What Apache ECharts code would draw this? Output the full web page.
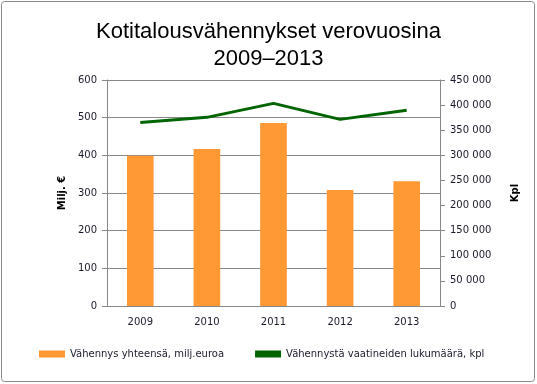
<!DOCTYPE html>
<html><head><meta charset="utf-8">
<script src="https://cdn.jsdelivr.net/npm/echarts@6/dist/echarts.min.js"></script>
<style>html,body{margin:0;padding:0;background:#fff}#c{width:537px;height:384px}</style>
</head><body><div id="c"></div>
<script>
const years = ['2009','2010','2011','2012','2013'];
const amounts = [399, 417, 486, 308, 331];
const counts = [365600, 375600, 403500, 371600, 389600];
const seriesNames = ['Vähennys yhteensä, milj.euroa', 'Vähennystä vaatineiden lukumäärä, kpl'];
const titleLines = ['Kotitalousvähennykset verovuosina', '2009–2013'];

const chart = echarts.init(document.getElementById('c'));
const fmt = v => String(v).replace(/\B(?=(\d{3})+(?!\d))/g, ' ');
const axisFont = {fontFamily: 'DejaVu Sans', fontSize: 10, color: '#1a1a2a'};
chart.setOption({
  animation: false,
  graphic: [{type: 'rect', shape: {x: 1.5, y: 1.5, width: 533, height: 380, r: 3},
    style: {fill: 'none', stroke: '#888', lineWidth: 1}}],
  title: {text: titleLines.join('\n'), left: 'center', top: 13,
    textStyle: {fontFamily: 'Liberation Sans', fontSize: 22, fontWeight: 'normal', color: '#000', lineHeight: 27}},
  legend: {bottom: 20, left: 34, itemGap: 31, itemWidth: 26, itemHeight: 7,
    textStyle: {fontFamily: 'DejaVu Sans', fontSize: 10, color: '#1a1a2a'},
    data: [{name: seriesNames[0], icon: 'rect'}, {name: seriesNames[1], icon: 'rect', itemStyle: {color: '#006400'}}]},
  grid: {left: 107, right: 97, top: 80, bottom: 78, containLabel: false},
  xAxis: {type: 'category', data: years,
    axisLine: {lineStyle: {color: '#888'}},
    axisTick: {lineStyle: {color: '#888'}, length: 5},
    axisLabel: Object.assign({margin: 11}, axisFont)},
  yAxis: [
    {type: 'value', min: 0, max: 600, interval: 100, name: 'Milj. €', nameLocation: 'middle', nameGap: 34,
     nameTextStyle: {fontFamily: 'DejaVu Sans', fontSize: 10, fontWeight: 'bold', color: '#000'},
     axisLine: {show: true, lineStyle: {color: '#888'}},
     axisTick: {show: true, length: 5, lineStyle: {color: '#888'}},
     splitLine: {lineStyle: {color: '#888'}},
     axisLabel: Object.assign({margin: 10}, axisFont)},
    {type: 'value', min: 0, max: 450000, interval: 50000, name: 'Kpl', nameLocation: 'middle', nameGap: 70,
     nameRotate: 90,
     nameTextStyle: {fontFamily: 'DejaVu Sans', fontSize: 10, fontWeight: 'bold', color: '#000'},
     axisLine: {show: true, lineStyle: {color: '#888'}},
     axisTick: {show: true, length: 5, lineStyle: {color: '#888'}},
     splitLine: {show: false},
     axisLabel: Object.assign({margin: 10, formatter: fmt}, axisFont)}
  ],
  series: [
    {name: seriesNames[0], type: 'bar', data: amounts, barWidth: '40%',
     itemStyle: {color: '#FF9933'}},
    {name: seriesNames[1], type: 'line', yAxisIndex: 1, data: counts, symbol: 'none',
     lineStyle: {color: '#006400', width: 3}, itemStyle: {color: '#006400'}}
  ]
});
</script></body></html>
